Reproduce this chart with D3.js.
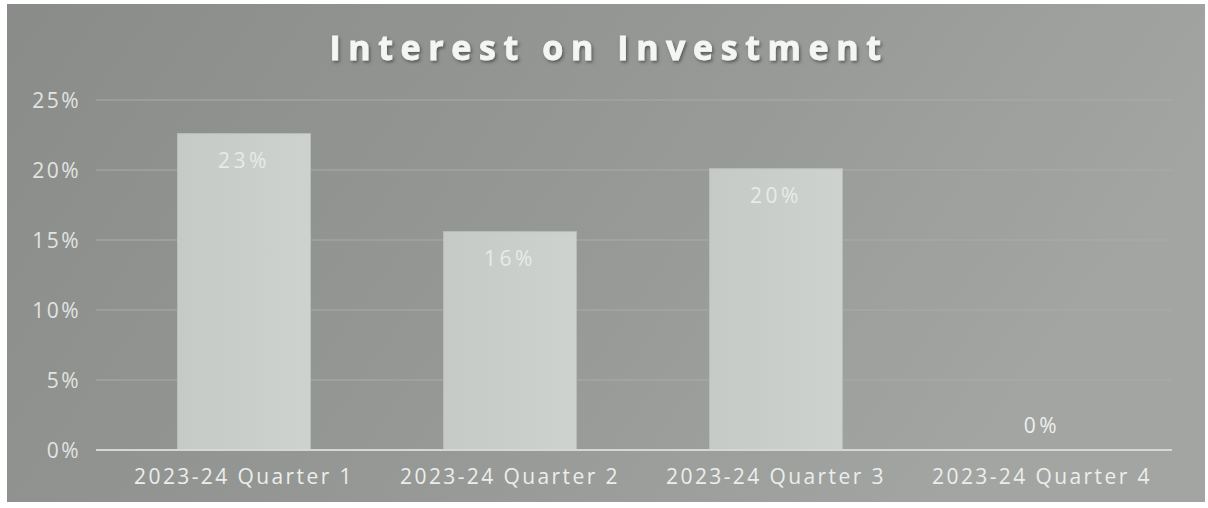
<!DOCTYPE html>
<html>
<head>
<meta charset="utf-8">
<script src="https://cdn.jsdelivr.net/npm/d3@7"></script>
<style>
  html, body { margin: 0; padding: 0; background: #ffffff; }
  svg { display: block; }
</style>
</head>
<body>
<svg id="chart" width="1208" height="508"></svg>
<script>
// Quarterly interest earned on investment, as a share of the amount invested
const categories = ["2023-24 Quarter 1", "2023-24 Quarter 2", "2023-24 Quarter 3", "2023-24 Quarter 4"];
const interestRate = [0.226, 0.156, 0.201, 0];
const yTicks = [0, 0.05, 0.10, 0.15, 0.20, 0.25];
const titleText = "Interest on Investment";

const svg = d3.select("#chart");

const frame = { x: 7, y: 4, w: 1198, h: 498 };
const plot = { left: 96, right: 1172, top: 100, bottom: 450 };

// background panel with a soft left-to-right gradient
const defs = svg.append("defs");
const bg = defs.append("linearGradient").attr("id", "bg").attr("x1", "0").attr("x2", "1").attr("y1", "0").attr("y2", "0.3");
bg.append("stop").attr("offset", "0").attr("stop-color", "#898c89");
bg.append("stop").attr("offset", "0.55").attr("stop-color", "#959895");
bg.append("stop").attr("offset", "1").attr("stop-color", "#a2a5a2");

const barGrad = defs.append("linearGradient").attr("id", "bar").attr("x1", "0").attr("x2", "1").attr("y1", "0").attr("y2", "0");
barGrad.append("stop").attr("offset", "0").attr("stop-color", "#c6cac6");
barGrad.append("stop").attr("offset", "1").attr("stop-color", "#ced2ce");

const shadow = defs.append("filter").attr("id", "tshadow").attr("x", "-10%").attr("y", "-30%").attr("width", "120%").attr("height", "160%");
shadow.append("feDropShadow").attr("dx", 1.5).attr("dy", 2).attr("stdDeviation", 1.5).attr("flood-color", "#404240").attr("flood-opacity", 0.7);

svg.append("rect")
  .attr("x", frame.x).attr("y", frame.y)
  .attr("width", frame.w).attr("height", frame.h)
  .attr("fill", "url(#bg)");

const x = d3.scaleBand()
  .domain(categories)
  .range([111, plot.right + 3])
  .paddingInner(0.5)
  .paddingOuter(0.25);

const y = d3.scaleLinear()
  .domain([0, 0.25])
  .range([plot.bottom, plot.top]);

// horizontal gridlines
svg.append("g")
  .selectAll("line")
  .data(yTicks.filter(t => t > 0))
  .join("line")
  .attr("x1", plot.left).attr("x2", plot.right)
  .attr("y1", d => y(d)).attr("y2", d => y(d))
  .attr("stroke", "#a9aca9")
  .attr("stroke-width", 1.2);

// y axis labels
const yAxis = d3.axisLeft(y)
  .tickValues(yTicks)
  .tickFormat(d3.format(".0%"))
  .tickSize(0)
  .tickPadding(0);

svg.append("g")
  .attr("transform", `translate(81,0)`)
  .call(yAxis)
  .call(g => g.select(".domain").remove())
  .call(g => g.selectAll("text")
    .attr("fill", "#e2e4e2")
    .attr("font-family", "'Open Sans', sans-serif")
    .attr("font-size", 21)
    .attr("letter-spacing", "2.5px")
    .attr("dy", "0.35em"));

// bars
svg.append("g")
  .selectAll("rect")
  .data(interestRate)
  .join("rect")
  .attr("x", (d, i) => x(categories[i]))
  .attr("y", d => y(d))
  .attr("width", x.bandwidth())
  .attr("height", d => y(0) - y(d))
  .attr("fill", "url(#bar)")
  .attr("stroke", "#b9bcb9")
  .attr("stroke-width", 1);

// baseline
svg.append("line")
  .attr("x1", plot.left).attr("x2", plot.right)
  .attr("y1", y(0)).attr("y2", y(0))
  .attr("stroke", "#d4d7d4")
  .attr("stroke-width", 2);

// value labels inside the top of each bar (above the baseline for zero)
svg.append("g")
  .selectAll("text")
  .data(interestRate)
  .join("text")
  .attr("x", (d, i) => x(categories[i]) + x.bandwidth() / 2)
  .attr("y", d => d > 0 ? y(d) + 34 : y(0) - 17)
  .attr("text-anchor", "middle")
  .attr("font-family", "'Open Sans', sans-serif")
  .attr("font-size", 21)
  .attr("letter-spacing", "3.5px")
  .attr("fill", d => d > 0 ? "#e8eae8" : "#eef0ee")
  .text(d => d3.format(".0%")(d));

// category axis
const xAxis = d3.axisBottom(x).tickSize(0).tickPadding(0);
svg.append("g")
  .attr("transform", `translate(0,${plot.bottom})`)
  .call(xAxis)
  .call(g => g.select(".domain").remove())
  .call(g => g.selectAll("text")
    .attr("fill", "#eceeec")
    .attr("font-family", "'Open Sans', sans-serif")
    .attr("font-size", 21)
    .attr("letter-spacing", "2.4px")
    .attr("dx", "0")
    .attr("dy", "1.6em"));

// title
svg.append("text")
  .attr("x", 609)
  .attr("y", 60)
  .attr("text-anchor", "middle")
  .attr("font-family", "'Open Sans', sans-serif")
  .attr("font-weight", "bold")
  .attr("font-size", 34)
  .attr("letter-spacing", "7.6px")
  .attr("fill", "#f4f5f4")
  .attr("stroke", "#f4f5f4")
  .attr("stroke-width", 0.8)
  .attr("filter", "url(#tshadow)")
  .text(titleText);
</script>
</body>
</html>
